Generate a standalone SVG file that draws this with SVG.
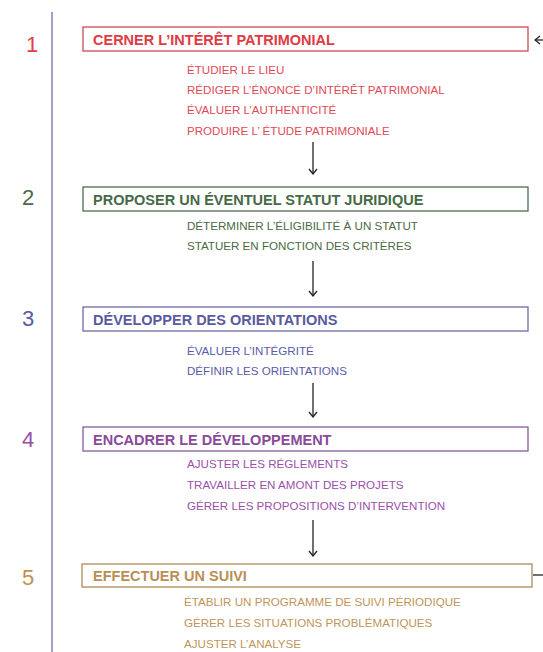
<svg xmlns="http://www.w3.org/2000/svg" width="543" height="652" viewBox="0 0 543 652">
<style>
text{font-family:"Liberation Sans",Arial,sans-serif}
.num{font-size:22px}
.t{font-size:14.5px;font-weight:bold}
.s{font-size:11.6px}
.box{fill:#fff;stroke-width:1.3}
.con{stroke:#222;stroke-width:1.3;fill:none}
</style>
<defs>
<marker id="ah" viewBox="0 0 10 10" refX="9" refY="5" markerWidth="10" markerHeight="10" markerUnits="userSpaceOnUse" orient="auto">
<path d="M4,1 L9,5 L4,9" fill="none" stroke="#222" stroke-width="1.3"/>
</marker>
</defs>
<rect width="543" height="652" fill="#fff"/>
<line x1="52" y1="12" x2="52" y2="652" stroke="#8282c4" stroke-width="1.5"/>
<g id="n1">
<text class="num" x="26" y="52" fill="#e0404a">1</text>
<rect class="box" x="83" y="27" width="445" height="24" stroke="#d04a55"/>
<text class="t" x="93" y="45" fill="#e03a45">CERNER L’INTÉRÊT PATRIMONIAL</text>
<g class="s" fill="#e04a55">
<text x="187" y="74">ÉTUDIER LE LIEU</text>
<text x="187" y="94">RÉDIGER L’ÉNONCÉ D’INTÉRÊT PATRIMONIAL</text>
<text x="187" y="114">ÉVALUER L’AUTHENTICITÉ</text>
<text x="187" y="135">PRODUIRE L’ ÉTUDE PATRIMONIALE</text>
</g>
</g>
<g id="n2">
<text class="num" x="22" y="205" fill="#4a6a4a">2</text>
<rect class="box" x="83" y="187" width="445" height="24" stroke="#4e6e4e"/>
<text class="t" x="93" y="205" fill="#466a46">PROPOSER UN ÉVENTUEL STATUT JURIDIQUE</text>
<g class="s" fill="#4a6a44">
<text x="187" y="230">DÉTERMINER L’ÉLIGIBILITÉ  À UN STATUT</text>
<text x="187" y="250">STATUER EN FONCTION DES CRITÈRES</text>
</g>
</g>
<g id="n3">
<text class="num" x="22" y="326" fill="#5a5aa8">3</text>
<rect class="box" x="83" y="307" width="445" height="24" stroke="#6a6aaa"/>
<text class="t" x="93" y="325" fill="#5a5aa0">DÉVELOPPER DES ORIENTATIONS</text>
<g class="s" fill="#5a5aa8">
<text x="187" y="355">ÉVALUER L’INTÉGRITÉ</text>
<text x="187" y="375">DÉFINIR LES ORIENTATIONS</text>
</g>
</g>
<g id="n4">
<text class="num" x="22" y="447" fill="#9a50a4">4</text>
<rect class="box" x="83" y="427" width="445" height="24" stroke="#8a5a9a"/>
<text class="t" x="93" y="445" fill="#8a4a9a">ENCADRER LE DÉVELOPPEMENT</text>
<g class="s" fill="#9a50aa">
<text x="187" y="468">AJUSTER LES RÉGLEMENTS</text>
<text x="187" y="489">TRAVAILLER EN AMONT DES PROJETS</text>
<text x="187" y="510">GÉRER LES PROPOSITIONS D’INTERVENTION</text>
</g>
</g>
<g id="n5">
<text class="num" x="22" y="585" fill="#c09050">5</text>
<rect class="box" x="82" y="564" width="450" height="23" stroke="#b08a55"/>
<text class="t" x="93" y="581" fill="#b88f55">EFFECTUER UN SUIVI</text>
<g class="s" fill="#c0955a">
<text x="184" y="606">ÉTABLIR UN PROGRAMME DE SUIVI PÉRIODIQUE</text>
<text x="184" y="627">GÉRER LES SITUATIONS PROBLÉMATIQUES</text>
<text x="184" y="648">AJUSTER L’ANALYSE</text>
</g>
</g>
<g id="connectors">
<line class="con" x1="313" y1="142" x2="313" y2="174" marker-end="url(#ah)"/>
<line class="con" x1="313" y1="261" x2="313" y2="296" marker-end="url(#ah)"/>
<line class="con" x1="313" y1="383" x2="313" y2="417" marker-end="url(#ah)"/>
<line class="con" x1="313" y1="520" x2="313" y2="556" marker-end="url(#ah)"/>
<line class="con" x1="545" y1="40" x2="535" y2="40" marker-end="url(#ah)"/>
<line class="con" x1="533" y1="575" x2="545" y2="575"/>
</g>
</svg>
